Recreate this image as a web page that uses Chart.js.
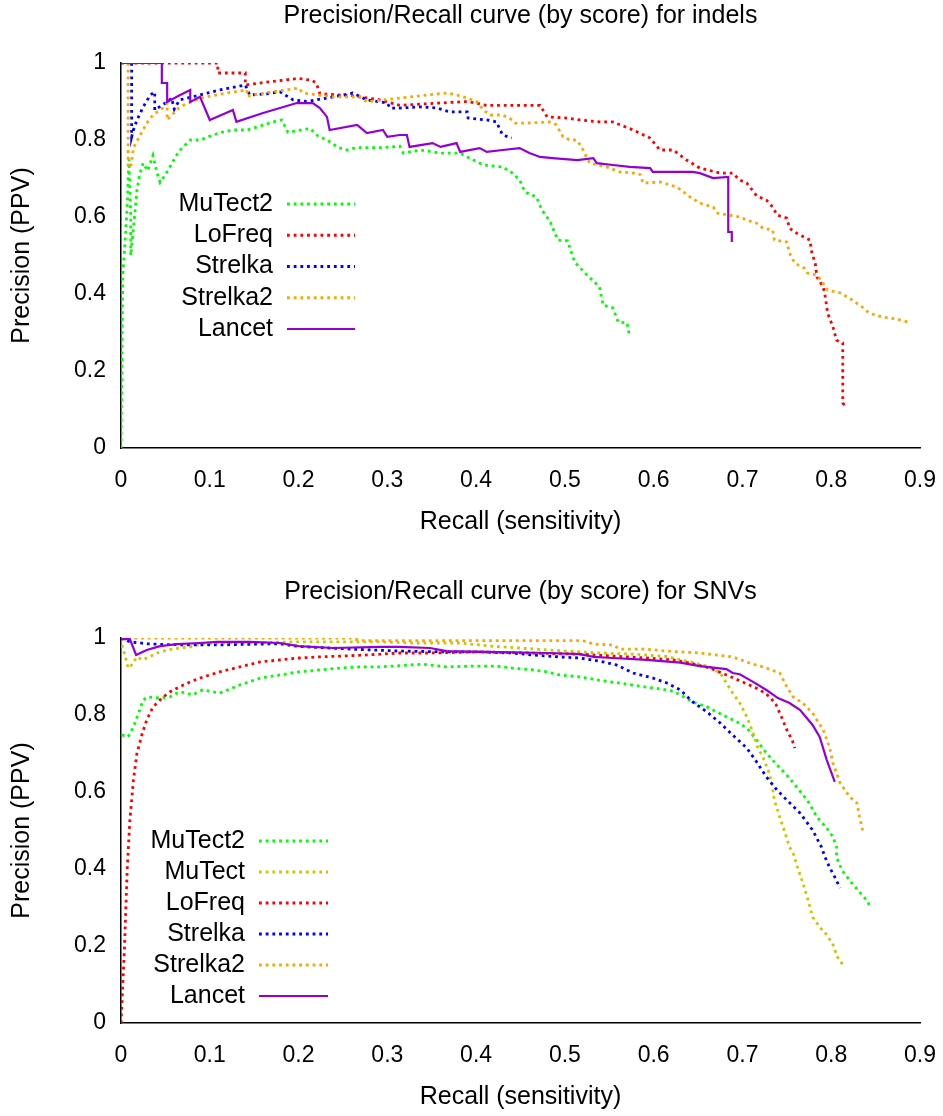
<!DOCTYPE html>
<html>
<head>
<meta charset="utf-8">
<title>Precision/Recall curves</title>
<script src="https://cdn.jsdelivr.net/npm/chart.js@4.4.1/dist/chart.umd.min.js"></script>
<style>
  html, body { margin: 0; padding: 0; background: #fff; }
  body { width: 943px; height: 1116px; position: relative; overflow: hidden; }
  canvas { position: absolute; left: 0; }
  #indels { top: 0; }
  #snvs { top: 575px; }
</style>
</head>
<body>
<canvas id="indels" width="943" height="541"></canvas>
<canvas id="snvs" width="943" height="541"></canvas>
<script>
// axis ticks
const recallTicks = [0, 0.1, 0.2, 0.3, 0.4, 0.5, 0.6, 0.7, 0.8, 0.9];
const recallTickLabels = ['0', '0.1', '0.2', '0.3', '0.4', '0.5', '0.6', '0.7', '0.8', '0.9'];
const precisionTicks = [0, 0.2, 0.4, 0.6, 0.8, 1];
const precisionTickLabels = ['0', '0.2', '0.4', '0.6', '0.8', '1'];

// indels: [recall, precision]
const indelsMuTect2 = [[0,0],[0.002,0.45],[0.005,0.55],[0.007,0.63],[0.009,0.75],[0.011,0.6],[0.011,0.5],[0.014,0.57],[0.018,0.67],[0.021,0.71],[0.025,0.74],[0.03,0.72],[0.036,0.76],[0.04,0.72],[0.044,0.69],[0.05,0.71],[0.055,0.73],[0.065,0.77],[0.078,0.8],[0.09,0.8],[0.1,0.81],[0.113,0.82],[0.126,0.826],[0.142,0.826],[0.155,0.835],[0.171,0.847],[0.181,0.852],[0.188,0.82],[0.2,0.825],[0.213,0.83],[0.222,0.81],[0.232,0.8],[0.245,0.78],[0.254,0.774],[0.265,0.78],[0.277,0.78],[0.295,0.78],[0.314,0.784],[0.318,0.766],[0.337,0.774],[0.36,0.766],[0.382,0.766],[0.39,0.756],[0.408,0.735],[0.43,0.73],[0.441,0.714],[0.449,0.696],[0.455,0.665],[0.468,0.652],[0.474,0.618],[0.483,0.59],[0.492,0.54],[0.503,0.538],[0.511,0.483],[0.525,0.449],[0.539,0.418],[0.543,0.371],[0.554,0.364],[0.56,0.327],[0.57,0.325],[0.573,0.288]];
const indelsLoFreq = [[0,1],[0.109,1],[0.109,0.974],[0.14,0.974],[0.14,0.943],[0.17,0.952],[0.2,0.96],[0.215,0.955],[0.22,0.948],[0.224,0.92],[0.26,0.915],[0.29,0.905],[0.314,0.89],[0.351,0.895],[0.39,0.9],[0.412,0.89],[0.472,0.89],[0.48,0.86],[0.502,0.857],[0.517,0.852],[0.539,0.847],[0.554,0.847],[0.577,0.826],[0.596,0.805],[0.607,0.774],[0.622,0.774],[0.637,0.748],[0.652,0.727],[0.675,0.714],[0.689,0.714],[0.697,0.696],[0.705,0.688],[0.716,0.655],[0.727,0.644],[0.734,0.626],[0.739,0.605],[0.75,0.597],[0.753,0.571],[0.761,0.558],[0.776,0.54],[0.778,0.509],[0.782,0.48],[0.784,0.444],[0.791,0.418],[0.793,0.397],[0.796,0.35],[0.802,0.314],[0.806,0.28],[0.813,0.273],[0.813,0.247],[0.813,0.117],[0.817,0.106]];
const indelsStrelka = [[0.012,1],[0.012,0.808],[0.014,0.826],[0.018,0.852],[0.025,0.886],[0.033,0.917],[0.038,0.925],[0.038,0.878],[0.052,0.899],[0.057,0.909],[0.06,0.88],[0.066,0.904],[0.089,0.917],[0.111,0.93],[0.14,0.943],[0.145,0.917],[0.164,0.92],[0.179,0.925],[0.194,0.904],[0.209,0.9],[0.239,0.912],[0.261,0.922],[0.277,0.904],[0.3,0.896],[0.303,0.883],[0.314,0.883],[0.337,0.886],[0.356,0.883],[0.37,0.873],[0.39,0.873],[0.391,0.857],[0.412,0.852],[0.423,0.847],[0.427,0.826],[0.43,0.813],[0.44,0.805]];
const indelsStrelka2 = [[0.008,1],[0.008,0.73],[0.011,0.73],[0.014,0.78],[0.021,0.81],[0.029,0.844],[0.036,0.865],[0.047,0.883],[0.052,0.896],[0.052,0.852],[0.066,0.886],[0.089,0.909],[0.119,0.922],[0.142,0.93],[0.142,0.914],[0.171,0.925],[0.2,0.935],[0.205,0.922],[0.239,0.912],[0.269,0.912],[0.277,0.899],[0.314,0.909],[0.345,0.917],[0.367,0.922],[0.378,0.917],[0.39,0.909],[0.401,0.899],[0.408,0.878],[0.416,0.865],[0.43,0.865],[0.441,0.852],[0.444,0.844],[0.457,0.844],[0.483,0.847],[0.49,0.84],[0.498,0.808],[0.506,0.8],[0.513,0.8],[0.519,0.782],[0.522,0.766],[0.528,0.74],[0.547,0.73],[0.562,0.717],[0.577,0.714],[0.585,0.71],[0.588,0.688],[0.607,0.691],[0.626,0.678],[0.641,0.652],[0.652,0.636],[0.667,0.626],[0.672,0.61],[0.697,0.6],[0.705,0.592],[0.716,0.584],[0.723,0.571],[0.734,0.566],[0.736,0.54],[0.75,0.535],[0.753,0.506],[0.759,0.48],[0.77,0.467],[0.773,0.455],[0.784,0.449],[0.79,0.431],[0.796,0.41],[0.81,0.403],[0.824,0.384],[0.836,0.364],[0.843,0.35],[0.858,0.34],[0.874,0.335],[0.89,0.325]];
const indelsLancet = [[0,1],[0.046,1],[0.046,0.948],[0.052,0.948],[0.052,0.899],[0.065,0.915],[0.078,0.93],[0.078,0.899],[0.089,0.912],[0.1,0.852],[0.126,0.878],[0.13,0.847],[0.16,0.87],[0.198,0.896],[0.216,0.896],[0.224,0.883],[0.232,0.86],[0.235,0.826],[0.266,0.839],[0.277,0.818],[0.295,0.826],[0.3,0.808],[0.314,0.813],[0.322,0.813],[0.325,0.782],[0.351,0.792],[0.36,0.782],[0.378,0.792],[0.382,0.769],[0.404,0.779],[0.412,0.769],[0.43,0.774],[0.449,0.779],[0.46,0.766],[0.472,0.756],[0.486,0.753],[0.514,0.748],[0.532,0.753],[0.536,0.74],[0.554,0.735],[0.573,0.73],[0.596,0.727],[0.599,0.717],[0.644,0.717],[0.652,0.714],[0.667,0.701],[0.684,0.704],[0.684,0.561],[0.688,0.561],[0.688,0.535]];

// SNVs: [recall, precision]
const snvMuTect2 = [[0.001,0.748],[0.008,0.743],[0.014,0.769],[0.019,0.8],[0.025,0.839],[0.03,0.847],[0.044,0.844],[0.055,0.847],[0.066,0.86],[0.074,0.857],[0.08,0.852],[0.092,0.865],[0.104,0.86],[0.111,0.857],[0.134,0.878],[0.157,0.896],[0.179,0.904],[0.2,0.912],[0.224,0.917],[0.247,0.922],[0.269,0.925],[0.292,0.925],[0.34,0.932],[0.367,0.925],[0.396,0.927],[0.423,0.927],[0.441,0.922],[0.464,0.917],[0.48,0.912],[0.494,0.904],[0.517,0.899],[0.539,0.89],[0.562,0.883],[0.584,0.875],[0.607,0.868],[0.622,0.862],[0.63,0.852],[0.644,0.834],[0.66,0.821],[0.678,0.8],[0.694,0.782],[0.705,0.766],[0.716,0.735],[0.727,0.701],[0.739,0.67],[0.75,0.644],[0.761,0.613],[0.773,0.579],[0.784,0.535],[0.795,0.506],[0.802,0.483],[0.806,0.457],[0.806,0.431],[0.812,0.397],[0.823,0.364],[0.832,0.34],[0.84,0.319],[0.843,0.306]];
const snvMuTect = [[0.001,0.982],[0.005,0.951],[0.008,0.922],[0.012,0.93],[0.018,0.951],[0.024,0.943],[0.029,0.948],[0.041,0.961],[0.052,0.969],[0.066,0.974],[0.078,0.977],[0.089,0.984],[0.111,0.987],[0.2,0.99],[0.292,0.99],[0.329,0.987],[0.382,0.987],[0.416,0.979],[0.449,0.974],[0.48,0.969],[0.517,0.964],[0.539,0.961],[0.577,0.958],[0.615,0.952],[0.641,0.938],[0.663,0.925],[0.675,0.909],[0.682,0.883],[0.689,0.857],[0.697,0.831],[0.705,0.795],[0.712,0.753],[0.717,0.717],[0.723,0.691],[0.729,0.657],[0.733,0.623],[0.736,0.579],[0.742,0.535],[0.748,0.494],[0.753,0.457],[0.757,0.442],[0.762,0.405],[0.768,0.364],[0.774,0.319],[0.779,0.275],[0.787,0.249],[0.795,0.229],[0.802,0.203],[0.807,0.171],[0.815,0.145]];
const snvLoFreq = [[0,0],[0.004,0.2],[0.007,0.4],[0.01,0.527],[0.014,0.631],[0.018,0.701],[0.024,0.753],[0.029,0.787],[0.036,0.821],[0.046,0.844],[0.055,0.86],[0.066,0.873],[0.078,0.886],[0.089,0.896],[0.1,0.904],[0.111,0.912],[0.134,0.925],[0.157,0.938],[0.179,0.943],[0.2,0.948],[0.224,0.951],[0.247,0.953],[0.277,0.956],[0.314,0.961],[0.348,0.961],[0.404,0.964],[0.46,0.961],[0.517,0.958],[0.554,0.953],[0.592,0.948],[0.622,0.943],[0.641,0.935],[0.663,0.922],[0.682,0.904],[0.7,0.886],[0.72,0.865],[0.731,0.847],[0.738,0.826],[0.744,0.795],[0.75,0.761],[0.756,0.735],[0.759,0.714]];
const snvStrelka = [[0,1],[0.01,0.99],[0.03,0.985],[0.05,0.983],[0.078,0.982],[0.111,0.982],[0.15,0.984],[0.179,0.985],[0.2,0.978],[0.261,0.971],[0.314,0.966],[0.367,0.964],[0.404,0.964],[0.441,0.961],[0.464,0.956],[0.494,0.951],[0.517,0.948],[0.539,0.94],[0.558,0.93],[0.577,0.909],[0.599,0.896],[0.615,0.883],[0.63,0.865],[0.644,0.834],[0.66,0.808],[0.675,0.779],[0.689,0.748],[0.705,0.714],[0.716,0.678],[0.727,0.639],[0.739,0.605],[0.75,0.579],[0.765,0.545],[0.779,0.501],[0.789,0.457],[0.793,0.431],[0.798,0.405],[0.804,0.379],[0.81,0.351]];
const snvStrelka2 = [[0,1],[0.26,1],[0.27,0.993],[0.52,0.993],[0.525,0.99],[0.532,0.984],[0.554,0.982],[0.562,0.971],[0.592,0.971],[0.615,0.966],[0.652,0.961],[0.689,0.951],[0.708,0.935],[0.727,0.922],[0.742,0.909],[0.75,0.873],[0.757,0.847],[0.768,0.831],[0.779,0.805],[0.791,0.761],[0.798,0.717],[0.802,0.675],[0.81,0.623],[0.821,0.587],[0.829,0.571],[0.832,0.535],[0.836,0.494]];
const snvLancet = [[0,0.997],[0.01,0.997],[0.017,0.956],[0.029,0.969],[0.044,0.979],[0.063,0.984],[0.089,0.987],[0.108,0.99],[0.145,0.99],[0.179,0.987],[0.2,0.979],[0.239,0.974],[0.292,0.977],[0.314,0.977],[0.348,0.974],[0.367,0.966],[0.404,0.964],[0.441,0.963],[0.48,0.961],[0.517,0.958],[0.532,0.951],[0.554,0.948],[0.592,0.943],[0.63,0.936],[0.652,0.927],[0.682,0.919],[0.689,0.909],[0.697,0.906],[0.712,0.886],[0.727,0.865],[0.74,0.844],[0.753,0.831],[0.765,0.813],[0.779,0.774],[0.787,0.743],[0.795,0.683],[0.804,0.626]];

const FONT = '"Liberation Sans", Arial, sans-serif';
const TEXT_SIZE = 25;   // title, key, axis titles
const TICK_SIZE = 23;   // tick labels
Chart.defaults.font.family = FONT;
Chart.defaults.font.size = TEXT_SIZE;
Chart.defaults.color = '#000';

// gnuplot-ish line styles
function dotted(label, pts, color) {
    return {
        label: label,
        data: pts.map(p => ({x: p[0], y: p[1]})),
        borderColor: color,
        borderWidth: 2.8,
        borderDash: [2.8, 3.9],
        borderCapStyle: 'butt',
        pointRadius: 0,
        fill: false,
        tension: 0
    };
}
function solid(label, pts, color) {
    return {
        label: label,
        data: pts.map(p => ({x: p[0], y: p[1]})),
        borderColor: color,
        borderWidth: 2.2,
        pointRadius: 0,
        fill: false,
        tension: 0
    };
}

// title centred on the plot area + key with text on the left of the sample line
const gnuDecor = {
    id: 'gnuDecor',
    afterDraw(chart, args, opts) {
        const {ctx, chartArea} = chart;
        ctx.save();
        ctx.fillStyle = '#000';
        ctx.font = TEXT_SIZE + 'px ' + FONT;
        ctx.textBaseline = 'middle';
        ctx.textAlign = 'center';
        ctx.fillText(opts.title, (chartArea.left + chartArea.right) / 2, opts.titleY);
        chart.data.datasets.forEach((ds, i) => {
            const y = opts.keyTop + i * opts.keyStep;
            ctx.textAlign = 'right';
            ctx.fillText(ds.label, chartArea.left + opts.textRight, y);
            ctx.beginPath();
            ctx.setLineDash(ds.borderDash || []);
            ctx.lineWidth = ds.borderWidth;
            ctx.strokeStyle = ds.borderColor;
            ctx.moveTo(chartArea.left + opts.lineFrom, y);
            ctx.lineTo(chartArea.left + opts.lineTo, y);
            ctx.stroke();
        });
        ctx.restore();
    }
};

function makeChart(id, datasets, decor) {
    // first dataset at the bottom, like gnuplot
    datasets.forEach((ds, i) => { ds.order = datasets.length - i; });
    return new Chart(document.getElementById(id), {
        type: 'line',
        data: { datasets: datasets },
        plugins: [gnuDecor],
        options: {
            responsive: false,
            animation: false,
            layout: { padding: { top: 63, right: 23, bottom: 0, left: 0 } },
            plugins: {
                legend: { display: false },
                tooltip: { enabled: false },
                gnuDecor: decor
            },
            scales: {
                x: {
                    type: 'linear',
                    min: 0,
                    max: 0.9,
                    afterBuildTicks: s => { s.ticks = recallTicks.map(v => ({ value: v })); },
                    afterFit: s => { s.height = 93; s.paddingLeft = 0; s.paddingRight = 0; },
                    grid: { display: false, drawTicks: false },
                    border: { display: true, color: '#000', width: 1.5 },
                    ticks: { padding: 19, autoSkip: false, maxRotation: 0, font: { size: TICK_SIZE },
                             callback: (v, i) => recallTickLabels[i] },
                    title: { display: true, text: 'Recall (sensitivity)', padding: { top: 0, bottom: 4 } }
                },
                y: {
                    type: 'linear',
                    min: 0,
                    max: 1,
                    afterBuildTicks: s => { s.ticks = precisionTicks.map(v => ({ value: v })); },
                    afterFit: s => { s.width = 121; },
                    grid: { display: false, drawTicks: false },
                    border: { display: true, color: '#000', width: 1.5 },
                    ticks: { padding: 15, autoSkip: false, font: { size: TICK_SIZE },
                             callback: (v, i) => precisionTickLabels[i] },
                    title: { display: true, text: 'Precision (PPV)', padding: { top: 7, bottom: 0 } }
                }
            }
        }
    });
}

makeChart('indels', [
    dotted('MuTect2', indelsMuTect2, '#00ff00'),
    dotted('LoFreq', indelsLoFreq, '#ff0000'),
    dotted('Strelka', indelsStrelka, '#0000ff'),
    dotted('Strelka2', indelsStrelka2, '#ffa500'),
    solid('Lancet', indelsLancet, '#9400d3')
], { title: 'Precision/Recall curve (by score) for indels', titleY: 16,
     keyTop: 204, keyStep: 31.25, textRight: 152, lineFrom: 166, lineTo: 234 });

makeChart('snvs', [
    dotted('MuTect2', snvMuTect2, '#00ff00'),
    dotted('MuTect', snvMuTect, '#c8c800'),
    dotted('LoFreq', snvLoFreq, '#ff0000'),
    dotted('Strelka', snvStrelka, '#0000ff'),
    dotted('Strelka2', snvStrelka2, '#ffa500'),
    solid('Lancet', snvLancet, '#9400d3')
], { title: 'Precision/Recall curve (by score) for SNVs', titleY: 17,
     keyTop: 266, keyStep: 31, textRight: 124, lineFrom: 138, lineTo: 207 });
</script>
</body>
</html>
